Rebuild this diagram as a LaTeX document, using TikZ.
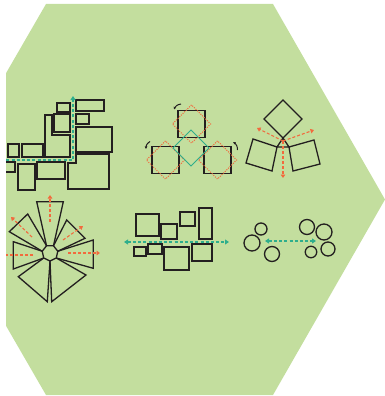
\documentclass[tikz,border=0pt]{standalone}
\usetikzlibrary{arrows.meta, calc}

\definecolor{hexgreen}{HTML}{C3DE9E}
\definecolor{inkblack}{HTML}{231F20}
\definecolor{guideteal}{HTML}{2EAE8C}
\definecolor{rayorange}{HTML}{F26A3D}

\begin{document}
\begin{tikzpicture}[x=1pt, y=-1pt,
  outline/.style={draw=inkblack, line width=1.3pt},
  guide/.style={draw=guideteal, line width=1.8pt, dash pattern=on 3pt off 2.2pt, -{Triangle[length=4pt,width=5pt]}},
  guideboth/.style={guide, {Triangle[length=4pt,width=5pt]}-{Triangle[length=4pt,width=5pt]}},
  ray/.style={draw=rayorange, line width=1.1pt, dash pattern=on 3pt off 2pt, -{Triangle[length=3.5pt,width=4.5pt]}},
  ghost/.style={draw=rayorange, line width=1.1pt, dash pattern=on 1pt off 1.3pt},
  turn/.style={draw=inkblack, line width=1pt, -{Latex[length=2.5pt,width=3pt]}},
  box/.style={outline, minimum size=#1, inner sep=0pt},
  ring/.style={outline, circle, minimum size=#1, inner sep=0pt}]

\useasboundingbox (0,0) rectangle (385,396);
\begin{scope}
\clip (6,0) rectangle (386,396);
\fill[hexgreen] (46,4) -- (273,4) -- (385,199.5) -- (273,395) -- (46,395) -- (-67,199.5) -- cycle;

% stacked blocks
\draw[outline] (57,103) rectangle (70,112);
\draw[outline] (76,100) rectangle (104,111);
\draw[outline] (54,114) rectangle (70,132);
\draw[outline] (45,115) -- (52,115) -- (52,135) -- (70,135) -- (70,157) -- (45,157) -- cycle;
\draw[outline] (76,114) rectangle (89,124);
\draw[outline] (76,127) rectangle (112,152);
\draw[outline] (8,144) rectangle (19,157);
\draw[outline] (22,144) rectangle (43,157);
\draw[outline] (-2,162) rectangle (15,172);
\draw[outline] (18,164) rectangle (35,190);
\draw[outline] (37,162) rectangle (65,179);
\draw[outline] (68,163) -- (76,163) -- (76,154) -- (109,154) -- (109,189) -- (68,189) -- cycle;
\coordinate (stackfoot) at (-4,160);
\coordinate (stackbend) at (73,160);
\coordinate (stacktop) at (73,96);
\draw[guide] (stackfoot) -- (stackbend) -- (stacktop);

% rotated squares
\node[box=27pt] (sqtop) at (191.5,124) {};
\node[box=27pt] (sqleft) at (165.5,160) {};
\node[box=27pt] (sqright) at (217.5,160) {};
\foreach \s in {sqtop, sqleft, sqright}
  \node[ghost, minimum size=27pt, inner sep=0pt, rotate=45] at (\s) {};
\node[draw=guideteal, line width=0.9pt, minimum size=25.5pt, inner sep=0pt, rotate=45] (core) at (191,148) {};
\coordinate (turntopa) at (181,104);   \coordinate (turntopb) at (174,109.5);
\coordinate (turnlefta) at (150,141.5); \coordinate (turnleftb) at (146,149);
\coordinate (turnrighta) at (237.5,150); \coordinate (turnrightb) at (233,142);
\draw[turn] (turntopa) to[bend right=30] (turntopb);
\draw[turn] (turnlefta) to[bend right=30] (turnleftb);
\draw[turn] (turnrighta) to[bend right=30] (turnrightb);

% squares on a triangle
\draw[outline] (283,100) -- (302,119) -- (283,138) -- (264,119) -- cycle;
\draw[outline] (283,138) -- (277,147) -- (289,147) -- cycle;
\draw[outline] (253,139) -- (277,147) -- (272,171) -- (246,163) -- cycle;
\draw[outline] (289,147) -- (314,140) -- (320,164) -- (293,171) -- cycle;
\coordinate (tri) at (283,141);
\coordinate (trileft) at (257,128);
\coordinate (triright) at (314,130);
\coordinate (tridown) at (283,178);
\foreach \e in {trileft, triright, tridown}
  \draw[ray] (tri) -- (\e);

% fan of blades
\coordinate (hub) at (50,253);
\foreach \i in {1,...,7}
  \coordinate (h\i) at ($(hub)+({-115.71+51.43*(\i-1)}:8)$);
\draw[outline] (h1) -- (h2) -- (h3) -- (h4) -- (h5) -- (h6) -- (h7) -- cycle;
\draw[outline] (h1) -- (36.7,201.7) -- (63.3,201.7) -- (h2);
\draw[outline] (h2) -- (66.7,220) -- (85,238.3) -- (h3);
\draw[outline] (h3) -- (93.3,240) -- (93.3,268.3) -- (h4);
\draw[outline] (h4) -- (86,275) -- (51.7,301.7) -- (h5);
\draw[outline] (h5) -- (47.3,301.7) -- (18.3,276.7) -- (h6);
\draw[outline] (h6) -- (13.3,269) -- (13.3,241.7) -- (h7);
\draw[outline] (h7) -- (9.3,231.7) -- (27.7,214) -- (h1);
\coordinate (fanup0) at (50,222);    \coordinate (fanup) at (50,195);
\coordinate (fanul0) at (32,237);    \coordinate (fanul) at (11,217);
\coordinate (fanur0) at (63,240);    \coordinate (fanur) at (83,226);
\coordinate (fanl0) at (33,255);     \coordinate (fanl) at (2,255);
\coordinate (fanr0) at (68,253);     \coordinate (fanr) at (100,253);
\foreach \a/\b in {fanup0/fanup, fanul0/fanul, fanur0/fanur, fanl0/fanl, fanr0/fanr}
  \draw[ray] (\a) -- (\b);

% spread rectangles
\draw[outline] (136,214) rectangle (159,236);
\draw[outline] (161,224) rectangle (177,239);
\draw[outline] (180,212) rectangle (195,226);
\draw[outline] (199,208) rectangle (212,239);
\draw[outline] (134,247) rectangle (146,256);
\draw[outline] (148,244) rectangle (162,254);
\draw[outline] (164,247) rectangle (189,270);
\draw[outline] (192,244) rectangle (212,261);
\coordinate (spreadl) at (124,242);
\coordinate (spreadr) at (229,242);
\draw[guideboth] (spreadl) -- (spreadr);

% circle groups
\node[ring=12pt] (ca) at (261,229) {};
\node[ring=16pt] (cb) at (252,243) {};
\node[ring=15pt] (cc) at (272,254) {};
\node[ring=15pt] (cd) at (307,227) {};
\node[ring=16pt] (ce) at (324,232) {};
\node[ring=11.5pt] (cf) at (311,252) {};
\node[ring=14pt] (cg) at (328,249) {};
\coordinate (gapl) at (265,241);
\coordinate (gapr) at (316,241);
\draw[guideboth, line width=1.4pt] (gapl) -- (gapr);
\end{scope}
\end{tikzpicture}
\end{document}
